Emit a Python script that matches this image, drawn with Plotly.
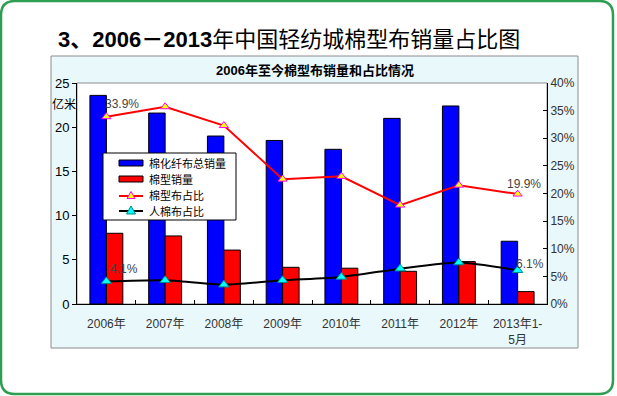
import plotly.graph_objects as go

categories = ["2006年", "2007年", "2008年", "2009年", "2010年", "2011年", "2012年", "2013年1-<br>5月"]
total_sales = [23.6, 21.6, 19.0, 18.5, 17.5, 21.0, 22.4, 7.1]      # 棉化纤布总销量 (亿米)
cotton_sales = [8.0, 7.7, 6.1, 4.15, 4.05, 3.7, 4.8, 1.4]         # 棉型销量 (亿米)
cotton_share = [33.9, 35.7, 32.3, 22.6, 23.1, 17.9, 21.5, 19.9]   # 棉型布占比 (%)
rayon_share = [4.1, 4.3, 3.5, 4.3, 4.9, 6.4, 7.5, 6.1]            # 人棉布占比 (%)
series_names = ["棉化纤布总销量", "棉型销量", "棉型布占比", "人棉布占比"]
left_ticks = [0, 5, 10, 15, 20, 25]
right_ticks = [0, 5, 10, 15, 20, 25, 30, 35, 40]

W, H = 617, 396
PL, PR, PT, PB = 77, 547, 83, 304  # plot area pixel box


def px(x):
    return (x - PL) / (PR - PL)


def py(y):
    return (PB - y) / (PB - PT)


FONT = "Arial, Liberation Sans, Noto Sans CJK SC, sans-serif"
BLUE, RED = "#0000ff", "#ff0000"
TRI1_FILL, TRI1_LINE = "#ffff00", "#ff00ff"
TRI2_FILL, TRI2_LINE = "#00ffff", "#008b8b"

fig = go.Figure()
fig.add_trace(go.Bar(
    x=categories, y=total_sales, name=series_names[0],
    marker=dict(color=BLUE, line=dict(color="#000000", width=1)),
))
fig.add_trace(go.Bar(
    x=categories, y=cotton_sales, name=series_names[1],
    marker=dict(color=RED, line=dict(color="#000000", width=1)),
))
fig.add_trace(go.Scatter(
    x=categories, y=[v / 100 for v in cotton_share], name=series_names[2], yaxis="y2",
    mode="lines+markers", line=dict(color=RED, width=2),
    marker=dict(symbol="triangle-up", size=8, color=TRI1_FILL, line=dict(color=TRI1_LINE, width=1)),
))
fig.add_trace(go.Scatter(
    x=categories, y=[v / 100 for v in rayon_share], name=series_names[3], yaxis="y2",
    mode="lines+markers", line=dict(color="#000000", width=2, shape="spline", smoothing=0.6),
    marker=dict(symbol="triangle-up", size=9, color=TRI2_FILL, line=dict(color=TRI2_LINE, width=1)),
))

# data labels
labels = [
    (0, cotton_share[0], 16, 13),
    (7, cotton_share[7], 6, 10),
    (0, rayon_share[0], 18, 12),
    (7, rayon_share[7], 12, 6),
]
annotations = []
for i, v, xs, ys in labels:
    annotations.append(dict(
        x=categories[i], y=v / 100, xref="x", yref="y2", text=f"{v:.1f}%",
        showarrow=False, xshift=xs, yshift=ys,
        font=dict(family=FONT, size=12, color="#444444"),
    ))

annotations += [
    dict(x=px(289), y=py(39), xref="paper", yref="paper", showarrow=False,
         xanchor="center", yanchor="middle",
         text="<b>3、2006－2013</b>年中国轻纺城棉型布销量占比图",
         font=dict(family=FONT, size=22, color="#000000")),
    dict(x=px(315), y=py(70), xref="paper", yref="paper", showarrow=False,
         xanchor="center", yanchor="middle",
         text="<b>2006年至今棉型布销量和占比情况</b>",
         font=dict(family=FONT, size=13, color="#000000")),
    dict(x=px(64), y=py(104), xref="paper", yref="paper", showarrow=False,
         xanchor="center", yanchor="middle",
         text="亿米", font=dict(family=FONT, size=12, color="#000000")),
]


def rounded_path(x0, y0, x1, y1, r):
    rx = r / (PR - PL)
    ry = r / (PB - PT)
    X0, X1 = px(x0), px(x1)
    Y0, Y1 = py(y0), py(y1)  # Y0 top, Y1 bottom
    return (f"M {X0 + rx} {Y0} L {X1 - rx} {Y0} Q {X1} {Y0} {X1} {Y0 - ry} "
            f"L {X1} {Y1 + ry} Q {X1} {Y1} {X1 - rx} {Y1} "
            f"L {X0 + rx} {Y1} Q {X0} {Y1} {X0} {Y1 + ry} "
            f"L {X0} {Y0 - ry} Q {X0} {Y0} {X0 + rx} {Y0} Z")


def tri_path(cx, cy, half, h):
    return (f"M {px(cx - half)} {py(cy + h / 2)} L {px(cx + half)} {py(cy + h / 2)} "
            f"L {px(cx)} {py(cy - h / 2)} Z")


shapes = [
    # outer green rounded frame
    dict(type="path", xref="paper", yref="paper", path=rounded_path(1, 1, 613, 394, 14),
         line=dict(color="#2e9e52", width=2.5), fillcolor="rgba(0,0,0,0)", layer="below"),
    # chart box
    dict(type="rect", xref="paper", yref="paper", x0=px(51), x1=px(578), y0=py(348), y1=py(56),
         fillcolor="#e9f8fb", line=dict(color="#8c8c8c", width=1), layer="below"),
    # plot area
    dict(type="rect", xref="paper", yref="paper", x0=0, x1=1, y0=0, y1=1,
         fillcolor="#ffffff", line=dict(color="#8c8c8c", width=1), layer="below"),
]

# manual legend (drawn above the marks, like the original)
LX0, LX1, LY0, LY1 = 103, 236, 153, 220
SX0, SX1, TX = 119, 143, 147
rows = [163, 179, 195, 211]
shapes += [
    dict(type="rect", xref="paper", yref="paper", x0=px(LX0), x1=px(LX1), y0=py(LY1), y1=py(LY0),
         fillcolor="#ffffff", line=dict(color="#000000", width=1), layer="above"),
    dict(type="rect", xref="paper", yref="paper", x0=px(SX0), x1=px(SX1),
         y0=py(rows[0] + 3), y1=py(rows[0] - 3),
         fillcolor=BLUE, line=dict(color="#000000", width=1), layer="above"),
    dict(type="rect", xref="paper", yref="paper", x0=px(SX0), x1=px(SX1),
         y0=py(rows[1] + 3), y1=py(rows[1] - 3),
         fillcolor=RED, line=dict(color="#000000", width=1), layer="above"),
    dict(type="line", xref="paper", yref="paper", x0=px(SX0), x1=px(SX1),
         y0=py(rows[2] + 1), y1=py(rows[2] + 1), line=dict(color=RED, width=2), layer="above"),
    dict(type="path", xref="paper", yref="paper", path=tri_path((SX0 + SX1) / 2, rows[2], 4, 7),
         fillcolor=TRI1_FILL, line=dict(color=TRI1_LINE, width=1), layer="above"),
    dict(type="line", xref="paper", yref="paper", x0=px(SX0), x1=px(SX1),
         y0=py(rows[3]), y1=py(rows[3]), line=dict(color="#000000", width=2), layer="above"),
    dict(type="path", xref="paper", yref="paper", path=tri_path((SX0 + SX1) / 2, rows[3] - 1, 4.5, 8),
         fillcolor=TRI2_FILL, line=dict(color=TRI2_LINE, width=1), layer="above"),
]
for name, ry in zip(series_names, rows):
    annotations.append(dict(
        x=px(TX), y=py(ry), xref="paper", yref="paper", showarrow=False,
        xanchor="left", yanchor="middle", text=name,
        font=dict(family=FONT, size=11, color="#000000"),
    ))

fig.update_layout(
    width=W, height=H,
    margin=dict(l=PL, r=W - PR, t=PT, b=H - PB, pad=0, autoexpand=False),
    paper_bgcolor="#ffffff", plot_bgcolor="rgba(0,0,0,0)",
    barmode="group", bargap=0.44, bargroupgap=0,
    font=dict(family=FONT, size=12, color="#000000"),
    showlegend=False,
    xaxis=dict(showline=True, linecolor="#000000", linewidth=1, showgrid=False,
               ticks="inside", tickson="boundaries", ticklen=4, tickcolor="#000000",
               tickfont=dict(family=FONT, size=12, color="#333333"),
               ticklabelstandoff=9, fixedrange=True, automargin=False),
    yaxis=dict(range=[0, 25], tickvals=left_ticks, showline=True, linecolor="#000000",
               linewidth=1, showgrid=False, zeroline=False, ticks="outside", ticklen=4,
               tickcolor="#000000", tickfont=dict(family=FONT, size=13, color="#000000"),
               automargin=False),
    yaxis2=dict(range=[0, 0.40], tickvals=[t / 100 for t in right_ticks],
                ticktext=[f"{t}%" for t in right_ticks], overlaying="y", side="right",
                showline=True, linecolor="#000000", linewidth=1, showgrid=False,
                zeroline=False, ticks="inside", ticklen=4, tickcolor="#000000",
                tickfont=dict(family=FONT, size=12, color="#333333"), automargin=False),
    annotations=annotations,
    shapes=shapes,
)

fig.write_html("out.html", config={"displayModeBar": False},
               post_script="document.body.style.margin='0px';")
